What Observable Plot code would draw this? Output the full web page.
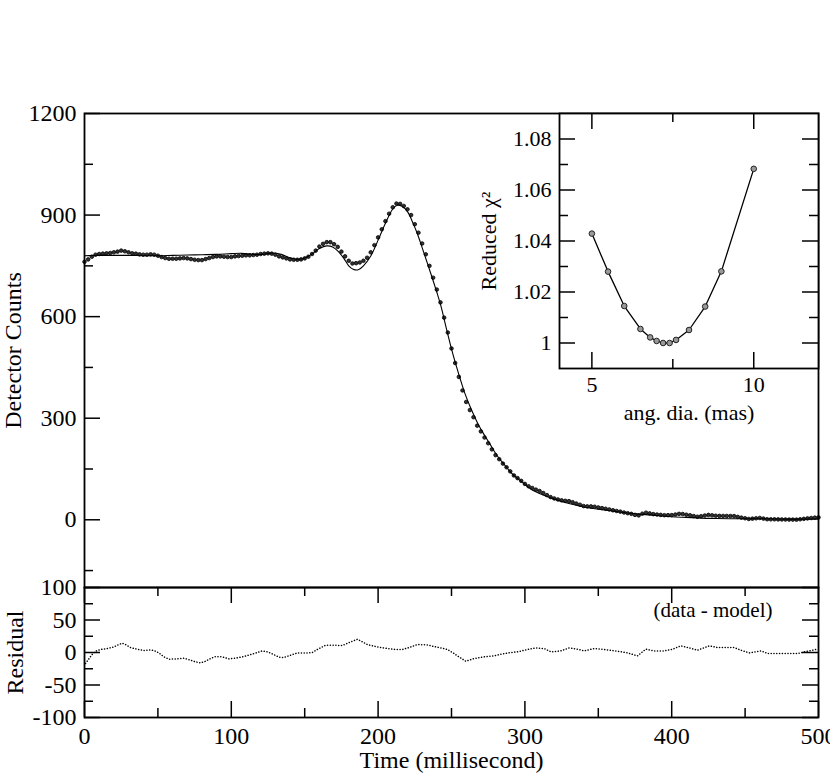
<!DOCTYPE html>
<html><head><meta charset="utf-8">
<script src="https://cdn.jsdelivr.net/npm/d3@7"></script>
<script src="https://cdn.jsdelivr.net/npm/@observablehq/plot@0.6"></script>
<style>
body{margin:0;background:#fff;}
#chart{position:relative;width:830px;height:775px;overflow:hidden;background:#fff;}
#chart svg{position:absolute;}
</style></head><body><div id="chart"></div>
<script>
const FONT = "'Liberation Serif', 'Times New Roman', serif";

// Light curve: detector counts sampled every 2.5 ms starting at 0 ms
const countsStart = 0, countsStep = 2.5;
const detectorCounts = [
762,769,777,783,785,786,787,788,790,792,795,793,790,787,786,784,783,783,784,783,
780,776,773,771,771,771,772,773,772,770,768,767,767,770,773,776,778,778,777,776,
776,778,779,780,781,781,782,783,785,786,787,786,783,778,775,772,769,768,768,769,
772,777,785,795,807,815,820,820,814,806,792,778,765,757,758,760,765,774,790,811,
834,858,882,904,923,934,933,927,917,900,873,848,816,784,750,715,680,642,597,553,
506,463,422,382,348,324,303,278,261,243,226,208,191,179,166,155,143,131,123,115,
106,99,94,89,85,79,73,67,63,60,57.5,56,55,52,48,44.5,40.5,39.5,39.5,38.5,
36.5,34.5,32.5,30.5,28,26,24,21.5,19.5,17.5,14.5,13,18,21,18.8,16.7,15.5,14.5,13.5,13.7,
13.8,15.5,17.5,17,15,13.3,11,9,10.5,12.6,14.4,13.2,12,11.5,11.4,11.3,11.1,10.9,8.5,6.3,
4.5,2.5,3.3,4.4,5.4,3.5,1.6,1.4,1.4,1.2,1.0,0.8,0.6,0.5,0.4,1.5,2.8,4.1,5.2,6.3,
7
];

// Model light curve [time ms, counts]
const modelTime = [0,10,20,30,40,50,60,70,80,90,100,107,115,121,128,134,140,145,150,155,160,165,169,173,177,180,183,186,190,195,200,205,210,213,216,220,224,227,230,233,236,240,243,246,250,253,256,259,263,268,272,276,281,286,292,298,304,312,320,330,340,350,360,370,380,390,400,410,420,430,445,460,480,500];
const modelCounts = [780,781,781,781,780,780,781,782,783,784,786,787,784,784,788,784,774,769,773,785,801,809,806,792,770,750,740,738,750,779,826,876,918,929,927,910,874,842,804,765,726,672,628,574,505,458,415,375,331,284,253,225,190,163,133,112,91,74,61,48,38,31,25.5,20,16,12.5,9,7,5,4,3,3,2,2];

// Residual (data - model) [time ms, residual]
const residTime = [0.7,2.3,5.2,7.5,10.9,15.5,20,23.4,25.7,27.9,31.4,35.9,40.4,43.9,47.3,50.7,54.1,57.5,63.2,67.7,72.3,75.7,79.1,82.5,85.9,89.3,93.8,98.4,104.1,108.6,113.2,117.7,121.1,124.5,127.9,132.5,135.9,140.4,145,151.8,155.2,158.6,164.3,170,175.6,180.2,185.9,189.3,192.7,199.5,206.3,212,216.5,221.1,226.8,233.6,238.1,242.7,247.2,251.8,254,259.7,265.4,272.2,279,283.6,290.4,294.9,301.8,307.4,313.1,317.7,324.5,330.2,335.8,340.4,347.2,354,363.1,369.9,376.7,382.4,388.1,394.9,400.6,406.3,412,417.6,425.6,431.3,442.6,447.2,452.9,460.8,465.4,476.7,485.8,490.3,499.4];
const residValue = [-16.9,-11.8,-3.1,2.0,4.6,6.1,8.6,12.2,14.3,12.2,7.6,5.1,3.0,4.0,3.0,-0.6,-6.7,-10.3,-9.8,-8.7,-11.8,-14.4,-15.9,-13.4,-9.3,-6.2,-6.7,-9.8,-8.2,-6.2,-3.1,0,2.5,1.0,-2.1,-7.2,-7.7,-4.1,-0.6,-0.6,0,4.6,11.2,11.2,10.7,15.3,20.4,16.3,12.2,8.6,6.1,4.6,4.6,7.6,12.2,11.7,9.2,7.1,4.6,-1.6,-5.2,-13.4,-9.3,-6.7,-5.2,-2.6,0,1.0,4.6,7.1,6.1,1.0,2.5,7.1,5.1,2.5,6.1,4.6,2.0,-0.6,-5.2,5.1,2.5,2.5,5.1,10.2,7.1,3.5,10.2,7.6,7.6,3.5,-0.6,2.5,-1.6,-1.6,-1.6,1.0,5.1];

// Inset: reduced chi-square vs angular diameter
const angDia = [5,5.5,6,6.5,6.8,7,7.2,7.4,7.6,8,8.5,9,10];
const chi2 = [1.0429,1.028,1.0145,1.0055,1.0022,1.0008,1.0,1.0,1.0012,1.0051,1.0143,1.0281,1.0683];

// Tick values
const mainYMajor = [0,300,600,900,1200];
const mainYMinor = [-150,150,450,750,1050];
const timeMajor = [0,100,200,300,400,500];
const timeMinor = [50,150,250,350,450];
const resMajor = [-100,-50,0,50,100];
const resMinor = [-75,-25,25,75];
const insetXMajor = [5,10];
const insetXMinor = [7.5];
const insetYMajor = [1,1.02,1.04,1.06,1.08];
const insetYMinor = [1.01,1.03,1.05,1.07];

const countsData = detectorCounts.map((v,i)=>({t: countsStart + i*countsStep, v}));
const modelData = modelTime.map((t,i)=>({t, v: modelCounts[i]}));
const residData = residTime.map((t,i)=>({t, r: residValue[i]}));
const chiData = angDia.map((a,i)=>({a, c: chi2[i]}));

const chart = document.getElementById("chart");
const baseStyle = {background:"transparent", overflow:"visible", fontFamily: FONT, fontSize:"24px", color:"#000"};
const MAJ = 16, MIN = 9, TW = 1.5;
const plain = d => String(d);

// ---------- Main panel ----------
const mainW = 830-84-12;
const main = Plot.plot({
  width: 830, height: 588, marginLeft: 84, marginRight: 12, marginTop: 113, marginBottom: 1,
  style: baseStyle,
  x: {domain:[0,500], axis:null},
  y: {domain:[-200,1200], ticks: mainYMajor, tickSize:0, tickPadding:8, label:null, tickFormat: plain},
  marks: [
    Plot.dot(countsData, {x:"t", y:"v", r:1.8, fill:"#333", stroke:"#000", strokeWidth:0.8}),
    Plot.line(modelData, {x:"t", y:"v", curve:"catmull-rom", stroke:"#000", strokeWidth:1.1}),
    Plot.tickY(mainYMajor, {y:d=>d, insetRight: mainW-MAJ, stroke:"#000", strokeWidth:TW}),
    Plot.tickY(mainYMinor, {y:d=>d, insetRight: mainW-MIN, stroke:"#000", strokeWidth:TW}),
    Plot.frame({stroke:"#000", strokeWidth:1.8}),
    Plot.text(["Detector Counts"], {frameAnchor:"left", textAnchor:"middle", lineAnchor:"middle", dx:-71, rotate:-90, text:d=>d, fontSize:24, fontFamily:FONT, fill:"#000"})
  ]
});
main.style.left = "0px"; main.style.top = "0px";
chart.appendChild(main);

// ---------- Residual panel ----------
const resW = 734, resH = 130;
const res = Plot.plot({
  width: 830, height: 215, marginLeft: 84, marginRight: 12, marginTop: 27, marginBottom: 58,
  style: baseStyle,
  x: {domain:[0,500], ticks: timeMajor, tickSize:0, tickPadding:9, label:null, tickFormat: plain},
  y: {domain:[-100,100], ticks: resMajor, tickSize:0, tickPadding:8, label:null, tickFormat: plain},
  marks: [
    Plot.line(residData, {x:"t", y:"r", stroke:"#000", strokeWidth:1.5, strokeDasharray:"0.1,2.7", strokeLinecap:"round"}),
    Plot.tickY(resMajor, {y:d=>d, insetRight: resW-MAJ, stroke:"#000", strokeWidth:TW}),
    Plot.tickY(resMinor, {y:d=>d, insetRight: resW-MIN, stroke:"#000", strokeWidth:TW}),
    Plot.tickY(resMajor, {y:d=>d, insetLeft: resW-MAJ, stroke:"#000", strokeWidth:TW}),
    Plot.tickY(resMinor, {y:d=>d, insetLeft: resW-MIN, stroke:"#000", strokeWidth:TW}),
    Plot.tickX(timeMajor, {x:d=>d, insetBottom: resH-MAJ, stroke:"#000", strokeWidth:TW}),
    Plot.tickX(timeMinor, {x:d=>d, insetBottom: resH-MIN, stroke:"#000", strokeWidth:TW}),
    Plot.tickX(timeMajor, {x:d=>d, insetTop: resH-MAJ, stroke:"#000", strokeWidth:TW}),
    Plot.tickX(timeMinor, {x:d=>d, insetTop: resH-MIN, stroke:"#000", strokeWidth:TW}),
    Plot.frame({stroke:"#000", strokeWidth:1.8}),
    Plot.text(["Residual"], {frameAnchor:"left", textAnchor:"middle", lineAnchor:"middle", dx:-69, rotate:-90, text:d=>d, fontSize:24, fontFamily:FONT, fill:"#000"}),
    Plot.text(["Time (millisecond)"], {frameAnchor:"bottom", textAnchor:"middle", lineAnchor:"middle", dy:43, text:d=>d, fontSize:24, fontFamily:FONT, fill:"#000"}),
    Plot.text(["(data - model)"], {frameAnchor:"top-right", textAnchor:"end", lineAnchor:"middle", dx:-46, dy:23, text:d=>d, fontSize:21, fontFamily:FONT, fill:"#000"})
  ]
});
res.style.left = "0px"; res.style.top = "560px";
chart.appendChild(res);

// ---------- Inset ----------
const inW = 259, inH = 255;
const inset = Plot.plot({
  width: 360, height: 330, marginLeft: 89, marginRight: 12, marginTop: 13, marginBottom: 62,
  style: {...baseStyle, fontSize:"22px"},
  x: {domain:[4,12], ticks: insetXMajor, tickSize:0, tickPadding:8, label:null, tickFormat: plain},
  y: {domain:[0.99,1.09], ticks: insetYMajor, tickSize:0, tickPadding:8, label:null, tickFormat: d => `${+d.toFixed(2)}`},
  marks: [
    Plot.frame({fill:"#fff", stroke:null}),
    Plot.line(chiData, {x:"a", y:"c", stroke:"#000", strokeWidth:1.3}),
    Plot.dot(chiData, {x:"a", y:"c", r:2.8, fill:"#999", stroke:"#222", strokeWidth:1}),
    Plot.tickY(insetYMajor, {y:d=>d, insetRight: inW-MAJ, stroke:"#000", strokeWidth:TW}),
    Plot.tickY(insetYMinor, {y:d=>d, insetRight: inW-MIN, stroke:"#000", strokeWidth:TW}),
    Plot.tickY(insetYMajor, {y:d=>d, insetLeft: inW-MAJ, stroke:"#000", strokeWidth:TW}),
    Plot.tickY(insetYMinor, {y:d=>d, insetLeft: inW-MIN, stroke:"#000", strokeWidth:TW}),
    Plot.tickX(insetXMajor, {x:d=>d, insetBottom: inH-MAJ, stroke:"#000", strokeWidth:TW}),
    Plot.tickX(insetXMinor, {x:d=>d, insetBottom: inH-MIN, stroke:"#000", strokeWidth:TW}),
    Plot.tickX(insetXMajor, {x:d=>d, insetTop: inH-MAJ, stroke:"#000", strokeWidth:TW}),
    Plot.tickX(insetXMinor, {x:d=>d, insetTop: inH-MIN, stroke:"#000", strokeWidth:TW}),
    Plot.frame({stroke:"#000", strokeWidth:1.8}),
    Plot.text(["Reduced χ²"], {frameAnchor:"left", textAnchor:"middle", lineAnchor:"middle", dx:-71, rotate:-90, text:d=>d, fontSize:22, fontFamily:FONT, fill:"#000"}),
    Plot.text(["ang. dia. (mas)"], {frameAnchor:"bottom", textAnchor:"middle", lineAnchor:"middle", dy:44, text:d=>d, fontSize:22, fontFamily:FONT, fill:"#000"})
  ]
});
inset.style.left = "470px"; inset.style.top = "100px";
chart.appendChild(inset);
</script>
</body></html>
